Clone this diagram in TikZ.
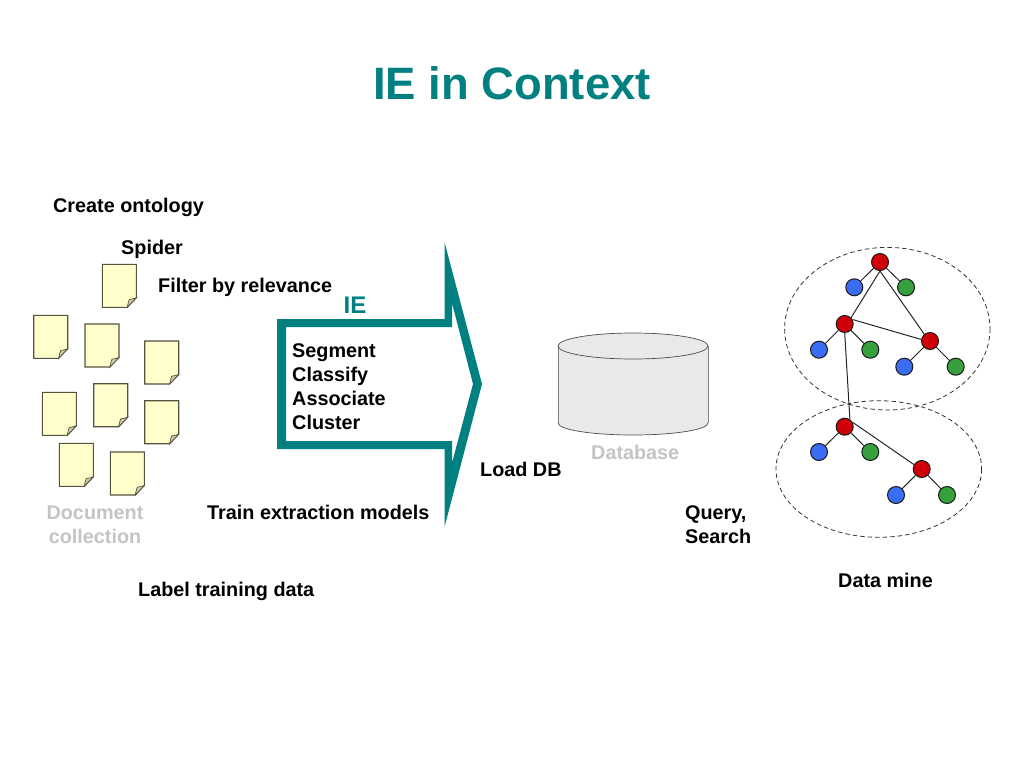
\documentclass[tikz,border=0pt]{standalone}
\usepackage{fontspec}
\usepackage{xcolor}
\setmainfont{Liberation Sans}
\definecolor{ieteal}{HTML}{008080}
\definecolor{paleink}{HTML}{C4C4C4}
\definecolor{paper}{HTML}{FFFFCC}
\definecolor{paperedge}{HTML}{55523F}
\definecolor{paperfold}{HTML}{CFCBA6}
\definecolor{dbfill}{HTML}{E9E9E9}
\definecolor{rootred}{HTML}{D00008}
\definecolor{leafblue}{HTML}{3A6CF4}
\definecolor{leafgreen}{HTML}{36A03C}

\begin{document}
\begin{tikzpicture}[x=1pt,y=-1pt]
        \tikzset{label/.style={inner sep=0pt,font=\fontsize{19.8}{24}\selectfont\bfseries},
            labelb/.style={label,anchor=base west},
            faint/.style={label,text=paleink},
            dot/.style={circle,draw=black!90!white,line width=1pt,minimum size=17pt,inner sep=0pt},
            red/.style={dot,fill=rootred},
            blue/.style={dot,fill=leafblue},
            green/.style={dot,fill=leafgreen},
            link/.style={draw=black!85!white,line width=1pt},
            cloud/.style={draw=black!80!white,line width=0.8pt,dash pattern=on 4.5pt off 3pt},
            sheet/.pic={
                \draw[fill=paper,draw=paperedge,line width=1.1pt] (0,0) -- (34,0) -- (34,33.5) -- (25,43) -- (0,43) -- cycle;
                \draw[fill=paperfold,draw=paperedge,line width=0.7pt] (25,43) .. controls (25.8,38.5) and (26.5,36) .. (27,35.2) .. controls (29,35) and (31,34.5) .. (34,33.5) -- cycle;
            }}
        \useasboundingbox (0,0) rectangle (1024,768);
        % title
        \node[inner sep=0pt,anchor=base,text=ieteal,font=\fontsize{45.4}{50}\selectfont\bfseries] (title) at (512,99) {IE in Context};
        % documents
        \foreach \px/\py in {102.3/264.3,33.7/315.3,85/324,144.7/341,42.3/392.3,93.7/383.7,144.7/400.7,59.3/443.3,110.3/452}
            \pic at (\px,\py) {sheet};
        % labels round the arrow
        \node[labelb] (ontology) at (53,212) {Create ontology};
        \node[labelb] (spider) at (121,254) {Spider};
        \node[labelb] (filter) at (158,292) {Filter by relevance};
        \node[labelb] (train) at (207,519) {Train extraction models};
        \node[labelb] (training) at (138,596) {Label training data};
        \node[labelb] (load) at (480,476) {Load DB};
        \node[labelb] (datamine) at (838,587) {Data mine};
        \node[faint,align=center,anchor=north] (collection) at (95,506) {Document\\collection};
        \node[faint,anchor=base west] (database) at (591,459) {Database};
        \node[label,align=left,anchor=north west] (query) at (685,505.5) {Query,\\Search};
        % IE arrow
        \fill[ieteal,even odd rule] (277,319) -- (444.5,319) -- (444.5,242) -- (482,384) -- (444.5,527) -- (444.5,449) -- (277,449) -- cycle
            (286,327) -- (452,327) -- (452,303) -- (473,384) -- (452,463) -- (452,441) -- (286,441) -- cycle;
        \node[inner sep=0pt,anchor=base,text=ieteal,font=\fontsize{24}{28}\selectfont\bfseries] (ie) at (355,313) {IE};
        \node[label,align=left,anchor=north west] (steps) at (292,343) {Segment\\Classify\\Associate\\Cluster};
        % database
        \fill[dbfill] (558,346) arc[start angle=180,end angle=0,x radius=75,y radius=-13] -- (708,423) arc[start angle=0,end angle=180,x radius=75,y radius=12] -- cycle;
        \draw[gray,line width=0.7pt] (558,346) -- (558,423) (708,346) -- (708,423);
        \draw[black!70!white,line width=0.7pt] (558,423) arc[start angle=180,end angle=0,x radius=75,y radius=12];
        \draw[black!70!white,line width=0.7pt] (633,346) ellipse[x radius=75,y radius=13];
        % clusters
        \draw[cloud] (887.3,328.7) ellipse[x radius=102.7,y radius=81.3];
        \draw[cloud] (878.8,469) ellipse[x radius=102.8,y radius=68.3];
        % tree
        \node[red] (r0) at (880,262) {};
        \node[blue] (b0) at (854.3,287.3) {};
        \node[green] (g0) at (906,287.3) {};
        \node[red] (r1) at (844.7,324) {};
        \node[blue] (b1) at (819,349.7) {};
        \node[green] (g1) at (870.3,349.7) {};
        \node[red] (r2) at (930,341) {};
        \node[blue] (b2) at (904.3,366.7) {};
        \node[green] (g2) at (955.7,366.7) {};
        \node[red] (r3) at (844.7,426.7) {};
        \node[blue] (b3) at (819,452) {};
        \node[green] (g3) at (870.3,452) {};
        \node[red] (r4) at (921.7,469) {};
        \node[blue] (b4) at (896,495) {};
        \node[green] (g4) at (947,495) {};
        \foreach \from/\to in {r0/b0,r0/g0,r1/b1,r1/g1,r2/b2,r2/g2,r3/b3,r3/g3,r4/b4,r4/g4}
            \draw[link] (\from) -- (\to);
        \draw[link] (r0.south) -- (r1.45);
        \draw[link] (r0.south) -- (r2.130);
        \draw[link] (r1.30) -- (r2.170);
        \draw[link] (r1.south) -- (r3.55);
        \draw[link] (r3.30) -- (r4.150);
    \end{tikzpicture}
\end{document}
